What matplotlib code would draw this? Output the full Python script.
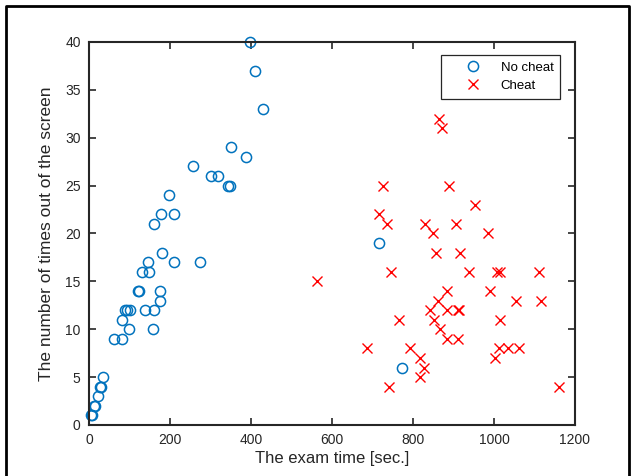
import matplotlib
matplotlib.use("Agg")
import matplotlib.pyplot as plt
from matplotlib.lines import Line2D

plt.rcParams['font.family'] = ['Liberation Sans', 'DejaVu Sans']

# 부정행위 없음 (시험 시간, 화면 이탈 횟수)
no_cheat_time = [398, 409, 429, 350, 388, 256, 301, 319, 342, 347, 197, 177, 209, 161,
                 180, 145, 209, 275, 130, 148, 121, 124, 175, 175, 89, 95, 102, 139, 161,
                 81, 98, 158, 61, 82, 34, 27, 30, 23, 13, 15, 5, 7, 717, 772]
no_cheat_count = [40, 37, 33, 29, 28, 27, 26, 26, 25, 25, 24, 22, 22, 21,
                  18, 17, 17, 17, 16, 16, 14, 14, 14, 13, 12, 12, 12, 12, 12,
                  11, 10, 10, 9, 9, 5, 4, 4, 3, 2, 2, 1, 1, 19, 6]

# 부정행위
cheat_time = [864, 872, 726, 889, 952, 717, 737, 830, 905, 850, 986, 858, 916, 745,
              939, 1008, 1015, 1112, 562, 883, 991, 861, 1054, 1115, 842, 885, 910, 914,
              766, 853, 1016, 867, 885, 910, 686, 792, 1012, 1035, 1062, 817, 1003, 828,
              817, 740, 1161]
cheat_count = [32, 31, 25, 25, 23, 22, 21, 21, 21, 20, 20, 18, 18, 16,
               16, 16, 16, 16, 15, 14, 14, 13, 13, 13, 12, 12, 12, 12,
               11, 11, 11, 10, 9, 9, 8, 8, 8, 8, 8, 7, 7, 6,
               5, 4, 4]

x_ticks = [0, 200, 400, 600, 800, 1000, 1200]
y_ticks = [0, 5, 10, 15, 20, 25, 30, 35, 40]

fig = plt.figure(figsize=(6.31, 4.76), dpi=100)
ax = fig.add_axes([89 / 631, 51 / 476, 486 / 631, 383 / 476])

ax.plot(no_cheat_time, no_cheat_count, 'o', color='#0072BD', mfc='none',
        markersize=7.3, markeredgewidth=1.1, label='No cheat', clip_on=False)
ax.plot(cheat_time, cheat_count, 'x', color='red',
        markersize=7.5, markeredgewidth=1.0, label='Cheat', clip_on=False)

ax.set_xlim(0, 1200)
ax.set_ylim(0, 40)
ax.set_xticks(x_ticks)
ax.set_yticks(y_ticks)
ax.tick_params(direction='in', length=5, width=1.2, top=True, right=True,
               labelsize=10, colors='#262626', pad=6)
for s in ax.spines.values():
    s.set_linewidth(1.5)
    s.set_color('#262626')

ax.set_xlabel('The exam time [sec.]', fontsize=12, color='#262626', labelpad=3)
ax.set_ylabel('The number of times out of the screen', fontsize=12.5, color='#262626', labelpad=8)

leg = ax.legend(loc='upper right', bbox_to_anchor=(560 / 631, 1 - 55 / 476),
                bbox_transform=fig.transFigure, fontsize=9.5, fancybox=False,
                framealpha=1, edgecolor='#262626', handlelength=3.9,
                handletextpad=0.1, borderpad=0.5, labelspacing=0.45,
                borderaxespad=0)
leg.get_frame().set_linewidth(0.9)

# 바깥 테두리
fig.add_artist(Line2D([6 / 631, 6 / 631, 629 / 631, 629 / 631],
                      [0, 1 - 6 / 476, 1 - 6 / 476, 0],
                      transform=fig.transFigure, color='black', linewidth=2))

fig.savefig('out.png', dpi=100)
